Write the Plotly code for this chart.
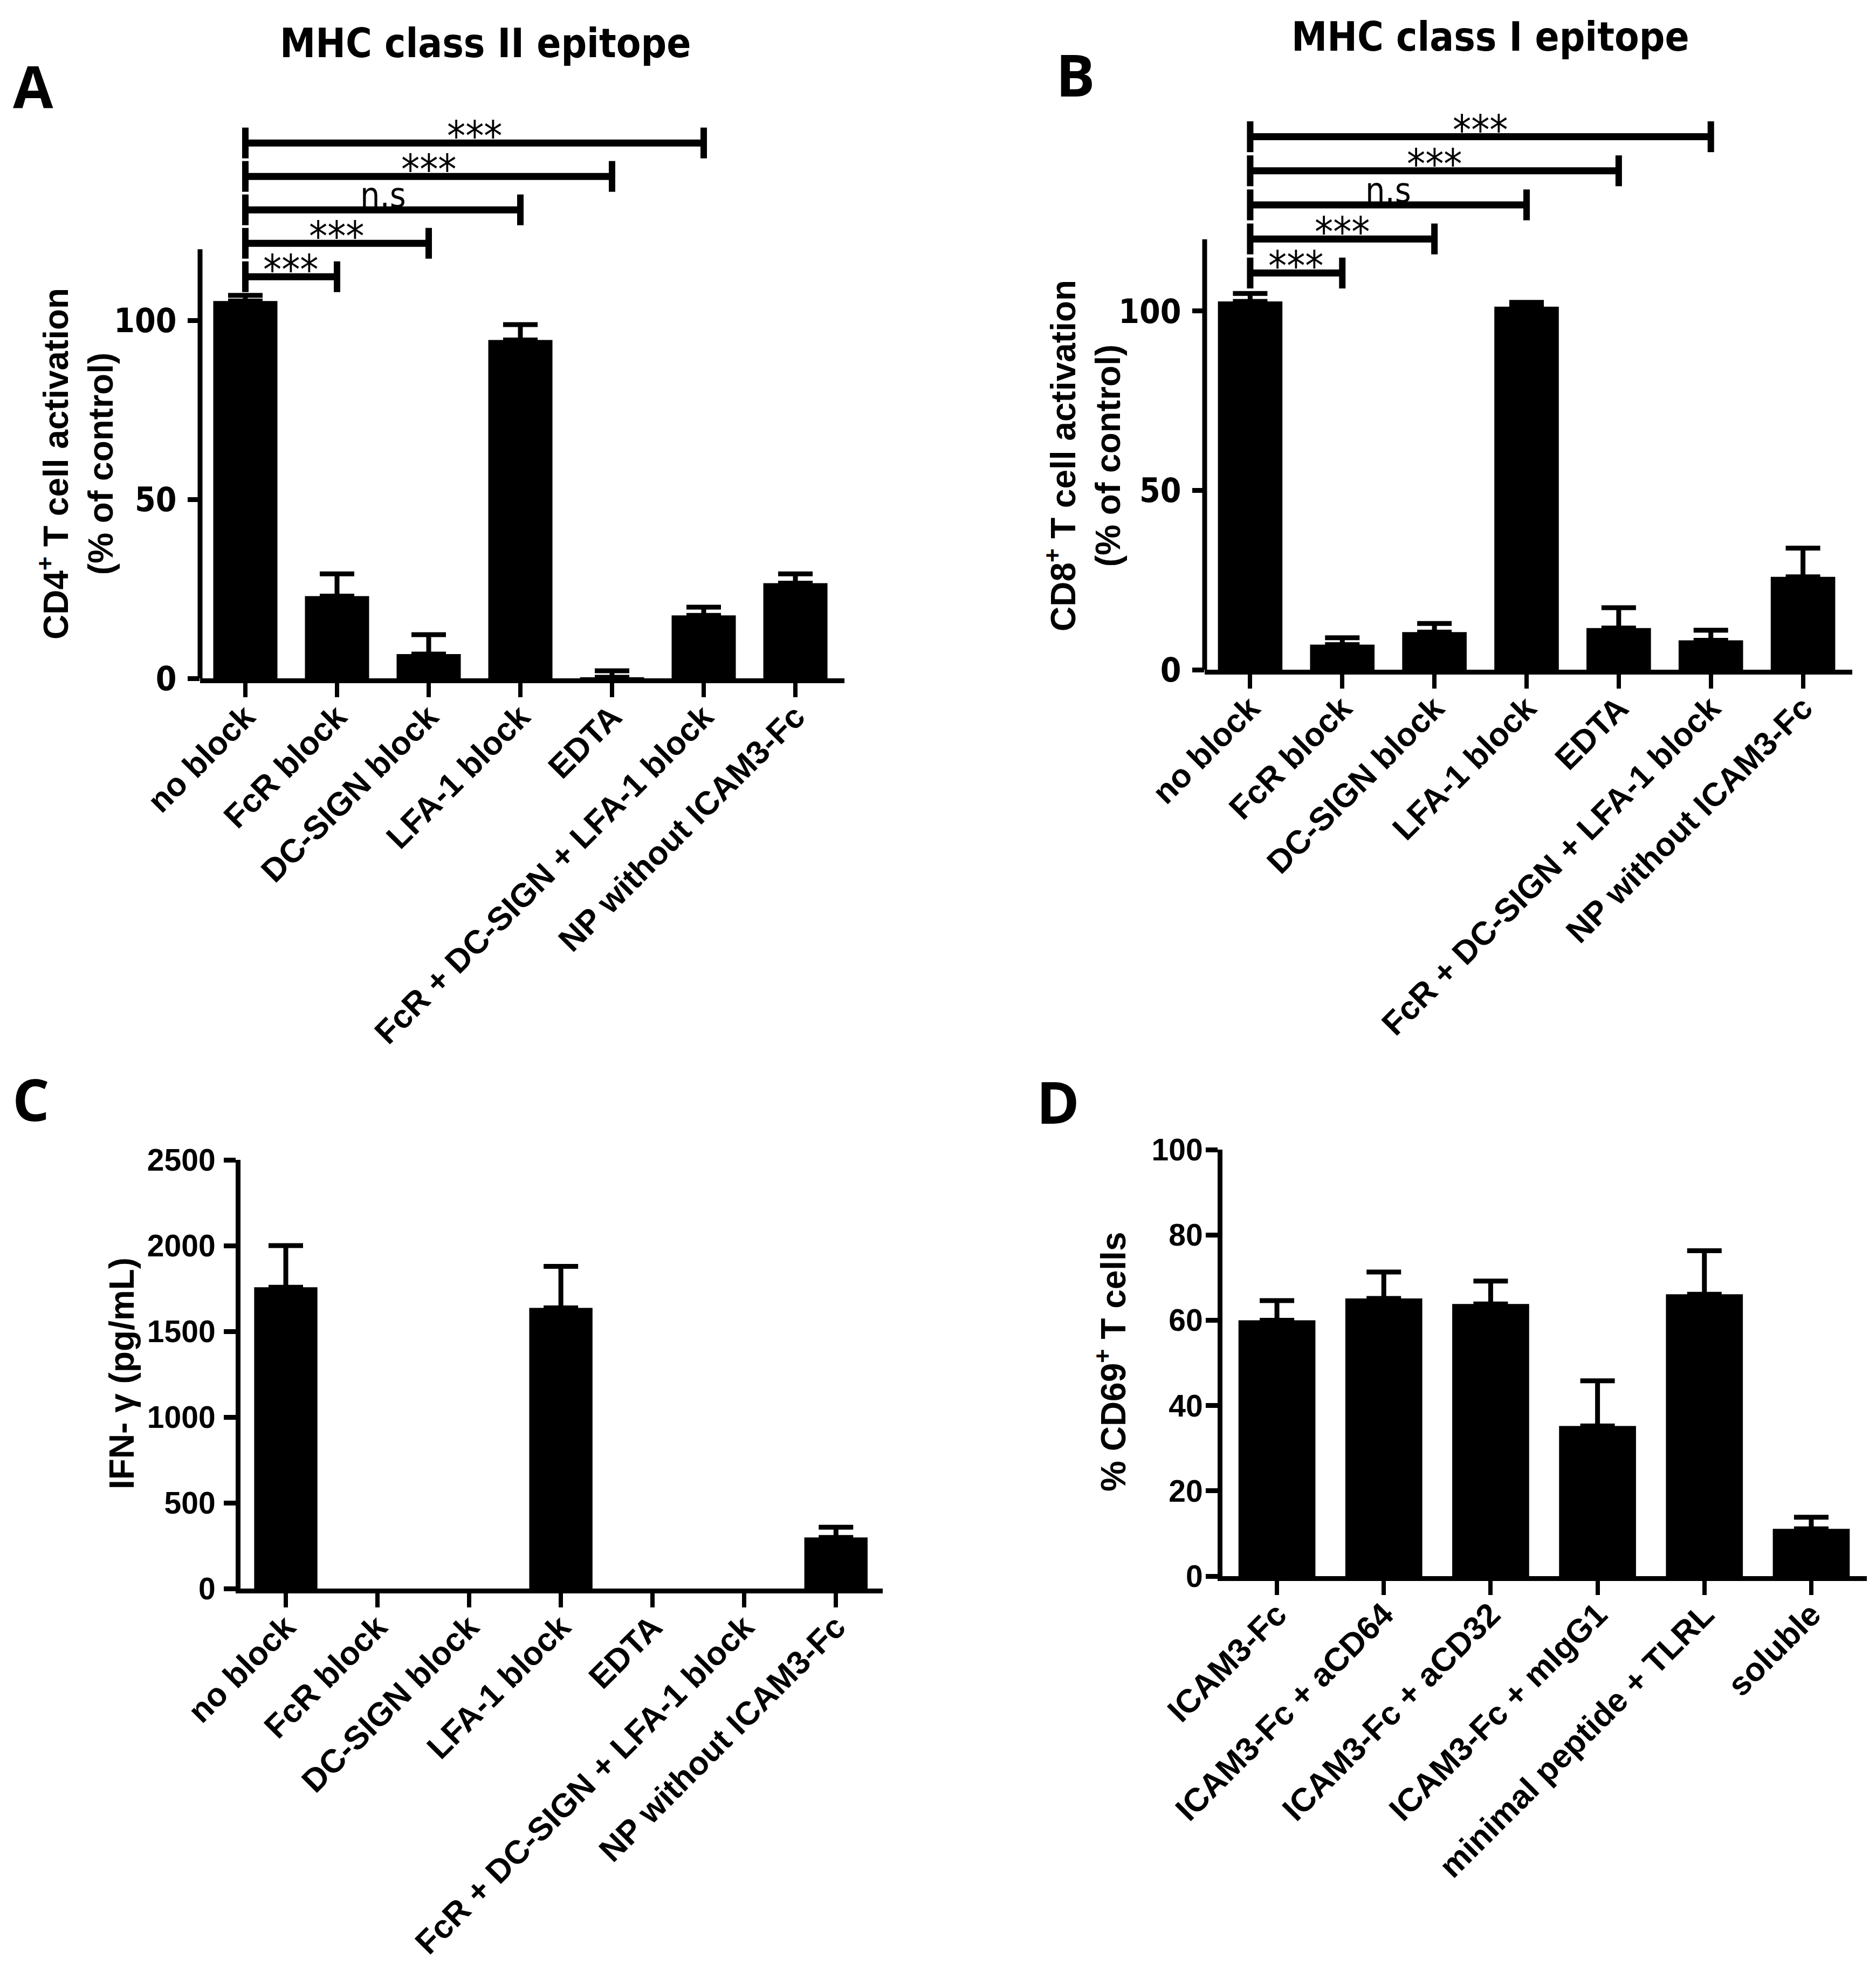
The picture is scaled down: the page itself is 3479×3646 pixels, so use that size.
import plotly.graph_objects as go

# ---- data ----
block_cats = ["no block", "FcR block", "DC-SIGN block", "LFA-1 block", "EDTA",
              "FcR + DC-SIGN + LFA-1 block", "NP without ICAM3-Fc"]

cd4_mean = [105.5, 23.0, 6.8, 94.6, 0.3, 17.6, 26.6]
cd4_err = [1.6, 6.2, 5.4, 4.3, 1.8, 2.3, 2.6]

cd8_mean = [102.7, 7.0, 10.5, 101.2, 11.6, 8.2, 25.9]
cd8_err = [2.2, 1.9, 2.4, 1.2, 5.7, 2.8, 8.0]

ifng_mean = [1757, 0, 0, 1637, 0, 0, 298]
ifng_err = [243, None, None, 242, None, None, 60]

cd69_cats = ["ICAM3-Fc", "ICAM3-Fc + aCD64", "ICAM3-Fc + aCD32", "ICAM3-Fc + mIgG1",
             "minimal peptide + TLRL", "soluble"]
cd69_mean = [60.0, 65.1, 63.8, 35.2, 66.1, 11.1]
cd69_err = [4.6, 6.2, 5.4, 10.6, 10.2, 2.7]

# comparisons against "no block" (index of the other group, label)
sig_targets = [1, 2, 3, 4, 5]
sig_labels_a = ["***", "***", "n.s", "***", "***"]
sig_labels_b = ["***", "***", "n.s", "***", "***"]

W, H = 3479, 3646
ARIAL = "Liberation Sans, Arial, sans-serif"
NARROW = "Liberation Sans Narrow, Arial Narrow, DejaVu Sans Condensed, sans-serif"
LETTER = "Open Sans, Calibri, sans-serif"


def px_x(p):
    return p / W


def px_y(p):
    return 1 - p / H


def add_bars(x, y, err, xa, ya, width):
    fig.add_trace(go.Bar(x=x, y=y, xaxis=xa, yaxis=ya, width=width,
                         marker=dict(color="black", line=dict(width=0)),
                         hoverinfo="x+y"))
    # upper error bars only, skipped where there is none
    ex = [c for c, e in zip(x, err) if e is not None]
    ey = [v for v, e in zip(y, err) if e is not None]
    ee = [e for e in err if e is not None]
    fig.add_trace(go.Scatter(x=ex, y=ey, xaxis=xa, yaxis=ya, mode="markers",
                             marker=dict(size=1, opacity=0), hoverinfo="skip",
                             error_y=dict(type="data", symmetric=False, array=ee,
                                          arrayminus=[0] * len(ee), color="black",
                                          thickness=9, width=32)))


fig = go.Figure()
add_bars(block_cats, cd4_mean, cd4_err, "x", "y", 0.70)
add_bars(block_cats, cd8_mean, cd8_err, "x2", "y2", 0.70)
add_bars(block_cats, ifng_mean, ifng_err, "x3", "y3", 0.69)
add_bars(cd69_cats, cd69_mean, cd69_err, "x4", "y4", 0.72)


def xax(dom, rng, anchor):
    return dict(domain=dom, range=rng, anchor=anchor, showline=True, linecolor="black",
                linewidth=9, ticks="outside", ticklen=26, tickwidth=8, tickcolor="black",
                tickangle=-45, ticklabelstandoff=-24, showgrid=False, zeroline=False,
                automargin=False,
                tickfont=dict(family=ARIAL, size=61, color="black", weight="bold"))


def yax(dom, rng, anchor, tickvals, line, font, standoff):
    return dict(domain=dom, range=rng, anchor=anchor, showline=line, linecolor="black",
                linewidth=9, ticks="outside", ticklen=22, tickwidth=9, tickcolor="black",
                tickvals=tickvals, ticklabelstandoff=standoff, showgrid=False,
                zeroline=False, automargin=False, tickfont=font)


narrow_tick = dict(family=NARROW, size=62, color="black", weight="bold")
arial_tick = dict(family=ARIAL, size=57, color="black", weight="bold")

fig.update_layout(
    width=W, height=H, margin=dict(l=0, r=0, t=0, b=0, autoexpand=False),
    paper_bgcolor="white", plot_bgcolor="white", showlegend=False,
    xaxis=xax([px_x(371), px_x(1566)], [-0.494, 6.535], "y"),
    yaxis=yax([px_y(1258), px_y(230)], [0, 155], "x", [0, 50, 100], False,
              narrow_tick, 8),
    xaxis2=xax([px_x(2234), px_x(3435)], [-0.494, 6.535], "y2"),
    yaxis2=yax([px_y(1242), px_y(211)], [0, 155], "x2", [0, 50, 100], False,
               narrow_tick, 8),
    xaxis3=xax([px_x(446), px_x(1637)], [-0.494, 6.51], "y3"),
    yaxis3=yax([px_y(2946), px_y(2151)], [0, 2500], "x3",
               [0, 500, 1000, 1500, 2000, 2500], True, arial_tick, 4),
    xaxis4=xax([px_x(2267), px_x(3462)], [-0.51, 5.52], "y4"),
    yaxis4=yax([px_y(2923), px_y(2132)], [0, 100], "x4",
               [0, 20, 40, 60, 80, 100], True, arial_tick, -6),
)

# y axis lines of A and B stop at 120, brackets sit above
for xa, ya in [("x", "y"), ("x2", "y2")]:
    fig.add_shape(type="line", xref=xa + " domain", yref=ya, x0=0, x1=0, y0=0, y1=120,
                  line=dict(color="black", width=9))


def brackets(xa, ya, labels, base, step):
    for k, (j, lab) in enumerate(zip(sig_targets, labels)):
        lvl = base + k * step
        fig.add_shape(type="line", xref=xa, yref=ya, x0=0, x1=j, y0=lvl, y1=lvl,
                      line=dict(color="black", width=13))
        for xe in (0, j):
            fig.add_shape(type="line", xref=xa, yref=ya, x0=xe, x1=xe,
                          y0=lvl - 4.3, y1=lvl + 4.3, line=dict(color="black", width=12))
        if lab.startswith("*"):
            size, shift = 76, -34
        else:
            size, shift = 64, -12
        fig.add_annotation(xref=xa, yref=ya, x=j / 2, y=lvl, text=lab, showarrow=False,
                           yanchor="bottom", yshift=shift,
                           font=dict(family=NARROW, size=size, color="black"))


brackets("x", "y", sig_labels_a, 112.3, 9.35)
brackets("x2", "y2", sig_labels_b, 110.6, 9.5)

title_font = dict(family=ARIAL, size=64, color="black", weight="bold")
ytitles = [
    ("CD4<sup>+</sup> T cell activation<br>(% of control)", 140, 860),
    ("CD8<sup>+</sup> T cell activation<br>(% of control)", 2008, 845),
    ("IFN- γ (pg/mL)", 226, 2547),
    ("% CD69<sup>+</sup> T cells", 2060, 2526),
]
for txt, cx, cy in ytitles:
    fig.add_annotation(xref="paper", yref="paper", x=px_x(cx), y=px_y(cy), text=txt,
                       textangle=-90, showarrow=False, xanchor="center", yanchor="middle",
                       font=title_font)

for txt, cx, cy in [("MHC class II epitope", 900, 80), ("MHC class I epitope", 2764, 68)]:
    fig.add_annotation(xref="paper", yref="paper", x=px_x(cx), y=px_y(cy), text=txt,
                       showarrow=False, xanchor="center", yanchor="middle",
                       font=dict(family=NARROW, size=74, color="black", weight="bold"))

for txt, cx, cy in [("A", 62, 158), ("B", 1994, 137), ("C", 57, 2037), ("D", 1962, 2042)]:
    fig.add_annotation(xref="paper", yref="paper", x=px_x(cx), y=px_y(cy), text=txt,
                       showarrow=False, xanchor="center", yanchor="middle",
                       font=dict(family=LETTER, size=108, color="black", weight="bold"))

# drop the default page margin so the figure fills the window exactly
fig.write_html("out.html", config={"displayModeBar": False},
               post_script="document.body.style.margin = '0';")
